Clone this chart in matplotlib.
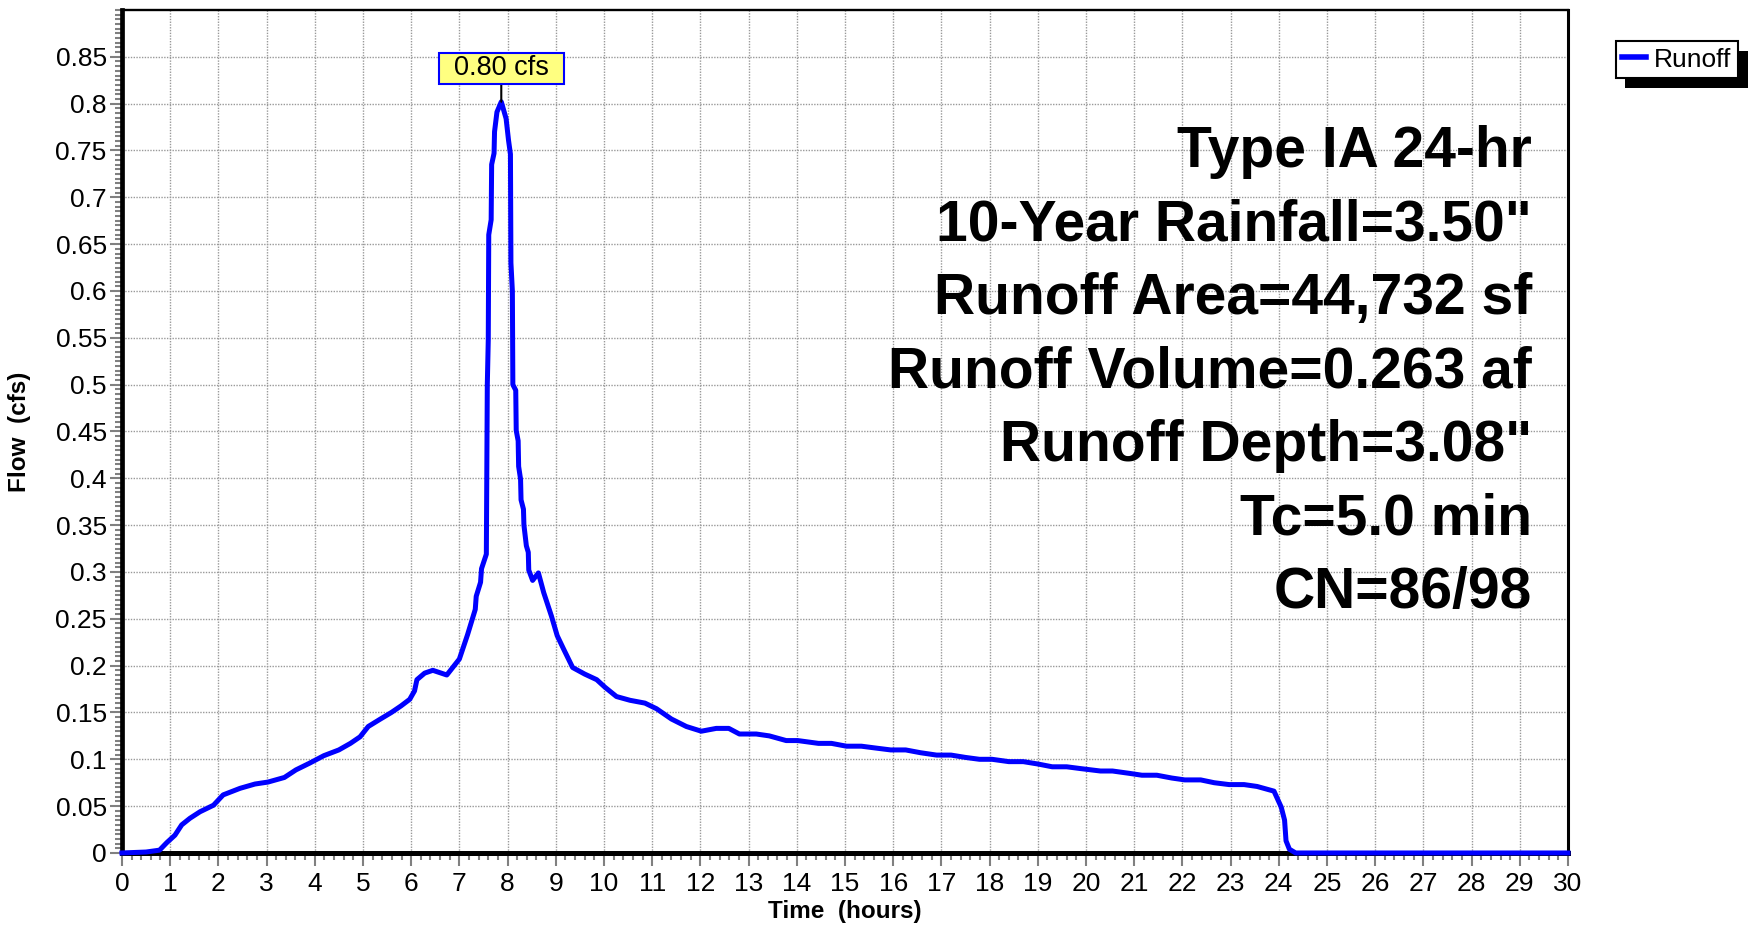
import numpy as np
import matplotlib
matplotlib.use("Agg")
import matplotlib.pyplot as plt
from matplotlib.ticker import MultipleLocator, FuncFormatter
from matplotlib.path import Path
import matplotlib.patheffects as pe

plt.rcParams['font.family'] = ['Liberation Sans', 'DejaVu Sans']

# hydrograph (hours, cfs)
hours = [0, 0.5, 0.78, 0.93, 1.1, 1.24, 1.41, 1.62, 1.9, 2.1, 2.45, 2.76, 3.03,
         3.37, 3.61, 3.89, 4.19, 4.5, 4.74, 4.94, 5.11, 5.35, 5.59, 5.79, 5.97,
         6.07, 6.12, 6.28, 6.45, 6.74, 7.0, 7.17, 7.33, 7.35, 7.44, 7.46, 7.56,
         7.58, 7.60, 7.61, 7.66, 7.67, 7.72, 7.73, 7.78, 7.87, 7.97, 8.02, 8.06,
         8.07, 8.10, 8.11, 8.17, 8.18, 8.22, 8.23, 8.27, 8.28, 8.33, 8.34, 8.39,
         8.43, 8.44, 8.52, 8.64, 8.75, 8.91, 9.03, 9.16, 9.35, 9.6, 9.85, 10.02,
         10.26, 10.54, 10.85, 11.09, 11.4, 11.71, 12.02, 12.33, 12.59, 12.81,
         13.16, 13.43, 13.78, 14.02, 14.45, 14.72, 15.03, 15.34, 15.64, 15.95,
         16.26, 16.57, 16.9, 17.2, 17.5, 17.79, 18.05, 18.4, 18.7, 19.0, 19.3,
         19.6, 19.9, 20.3, 20.55, 20.9, 21.16, 21.47, 21.78, 22.05, 22.38, 22.66,
         22.97, 23.28, 23.55, 23.9, 24.05, 24.12, 24.15, 24.22, 24.35, 30]
flow = [0, 0.001, 0.003, 0.011, 0.019, 0.03, 0.037, 0.044, 0.051, 0.062, 0.069,
        0.0736, 0.0757, 0.0806, 0.0887, 0.0958, 0.1039, 0.110, 0.117, 0.124,
        0.135, 0.1426, 0.150, 0.157, 0.164, 0.173, 0.185, 0.192, 0.195, 0.190,
        0.207, 0.233, 0.26, 0.274, 0.289, 0.3035, 0.319, 0.50, 0.548, 0.66,
        0.676, 0.735, 0.747, 0.77, 0.791, 0.802, 0.784, 0.761, 0.746, 0.63, 0.60,
        0.5, 0.494, 0.451, 0.44, 0.4127, 0.399, 0.377, 0.367, 0.35, 0.328, 0.321,
        0.302, 0.291, 0.299, 0.278, 0.253, 0.232, 0.218, 0.198, 0.191, 0.185,
        0.177, 0.167, 0.163, 0.160, 0.154, 0.143, 0.135, 0.130, 0.133, 0.133,
        0.127, 0.127, 0.125, 0.120, 0.120, 0.117, 0.117, 0.114, 0.114, 0.112,
        0.110, 0.110, 0.107, 0.1045, 0.1045, 0.102, 0.1, 0.1, 0.0975, 0.0975,
        0.095, 0.092, 0.092, 0.09, 0.0875, 0.0875, 0.085, 0.083, 0.083, 0.080,
        0.078, 0.078, 0.075, 0.073, 0.073, 0.071, 0.066, 0.049, 0.035, 0.013,
        0.004, 0, 0]

peak_t, peak_q = 7.87, 0.802
peak_label = "0.80 cfs"

info_lines = ["Type IA 24-hr", '10-Year Rainfall=3.50"', "Runoff Area=44,732 sf",
              "Runoff Volume=0.263 af", 'Runoff Depth=3.08"', "Tc=5.0 min",
              "CN=86/98"]


def wide_box(x0, y0, width, height, mutation_size):
    # wider padding left/right than top/bottom, like the peak tag
    px, py = 0.55 * mutation_size, 0.08 * mutation_size
    x0, y0 = x0 - px, y0 - py
    x1, y1 = x0 + width + 2 * px, y0 + height + 2 * py
    return Path([(x0, y0), (x1, y0), (x1, y1), (x0, y1), (x0, y0)],
                closed=True)


fig = plt.figure(figsize=(17.62, 9.32), dpi=100)
ax = fig.add_axes([0.0692, 0.0848, 0.8207, 0.9045])

ax.plot(hours, flow, color="#0000FF", lw=3.6, label="Runoff",
        solid_joinstyle="round", zorder=3, clip_on=False)

ax.set_xlim(0, 30)
ax.set_ylim(0, 0.9)
ax.xaxis.set_major_locator(MultipleLocator(1))
ax.xaxis.set_minor_locator(MultipleLocator(0.2))
ax.set_yticks(np.arange(0, 0.851, 0.05))
ax.yaxis.set_minor_locator(MultipleLocator(0.005))
ax.yaxis.set_major_formatter(FuncFormatter(lambda v, p: "%g" % round(v, 2)))

ax.tick_params(which="major", direction="out", length=9, width=1.5,
               color="#808080", labelsize=19, pad=2)
ax.tick_params(which="minor", direction="out", length=5, width=1.5,
               color="#808080")
ax.tick_params(axis="x", which="major", pad=5)

ax.grid(True, which="major", color="#999999", lw=1.0, ls=(0, (1, 1)))
ax.set_axisbelow(True)

ax.spines["left"].set_linewidth(3.4)
ax.spines["bottom"].set_linewidth(3.6)
ax.spines["top"].set_linewidth(1.7)
ax.spines["right"].set_linewidth(2.2)

ax.set_xlabel("Time  (hours)", fontsize=17.5, fontweight="bold")
ax.set_ylabel("Flow  (cfs)", fontsize=17.5, fontweight="bold")
ax.xaxis.set_label_coords(0.5, -0.056)
ax.yaxis.set_label_coords(-0.063, 0.5)

ax.annotate(peak_label, xy=(peak_t, peak_q), xytext=(0, 24),
            textcoords="offset points", ha="center", va="center",
            fontsize=19.5,
            bbox=dict(boxstyle=wide_box, fc="#FFFF80", ec="#0000FF", lw=1.5),
            arrowprops=dict(arrowstyle="-", color="black", lw=1.5,
                            shrinkA=0, shrinkB=0))

for i, line in enumerate(info_lines):
    ax.text(0.975, 0.8138 - i * 0.0872, line, transform=ax.transAxes,
            ha="right", va="baseline", fontsize=41, fontweight="bold")

leg = fig.legend(loc="upper left", bbox_to_anchor=(0.917, 0.956),
                 borderaxespad=0, fontsize=19, handlelength=0.9,
                 handletextpad=0.3, borderpad=0.25, fancybox=False,
                 edgecolor="black", framealpha=1)
leg.get_frame().set_linewidth(1.5)
leg.get_frame().set_path_effects([
    pe.SimplePatchShadow(offset=(7, -7), shadow_rgbFace="black", alpha=1),
    pe.Normal()])
for h in leg.legend_handles:
    h.set_linewidth(4)

fig.savefig("out.png", dpi=100)
